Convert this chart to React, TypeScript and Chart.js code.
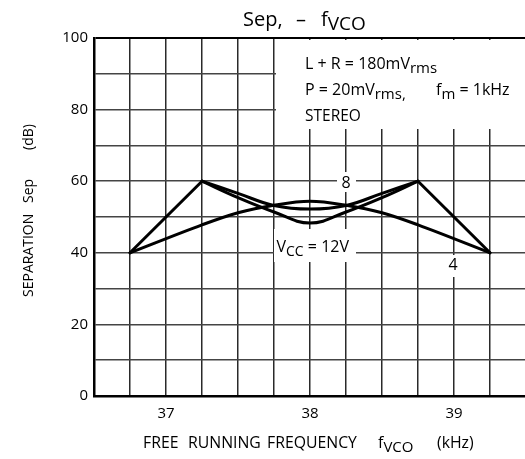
import React, { useEffect, useRef } from 'react';
import { Chart, registerables } from 'chart.js';

Chart.register(...registerables);

// ---- scale grid / tick values ----
const xGrid = [36.5, 36.75, 37, 37.25, 37.5, 37.75, 38, 38.25, 38.5, 38.75, 39, 39.25];
const xTickLabels = [37, 38, 39];
const yGrid = [0, 10, 20, 30, 40, 50, 60, 70, 80, 90, 100];
const yTickLabels = [0, 20, 40, 60, 80, 100];

// ---- series ----
// VCC = 12V : arch
const archX = [36.75, 37.25, 37.5, 37.75, 38, 38.25, 38.5, 38.75, 39.25];
const archY = [40, 47.8, 51.2, 53.3, 54.4, 53.3, 51.2, 47.8, 40];
// straight outer flanks
const leftFlankX = [36.75, 37.25];
const leftFlankY = [40, 60];
const rightFlankX = [38.75, 39.25];
const rightFlankY = [60, 40];
// dips between the peaks
const dipX = [37.25, 37.5, 37.75, 38, 38.25, 38.5, 38.75];
const dip8Y = [60, 56.6, 53.2, 52.2, 53.2, 56.6, 60];
const dip4Y = [60, 55.4, 51.4, 48.3, 51.4, 55.4, 60];

const FONT = '"Open Sans", "DejaVu Sans", sans-serif';

type Part = { t: string; size: number; dy?: number };

function drawParts(ctx: CanvasRenderingContext2D, x: number, y: number, parts: Part[]) {
  let cx = x;
  for (const p of parts) {
    ctx.font = `${p.size}px ${FONT}`;
    ctx.fillText(p.t, cx, y + (p.dy || 0));
    cx += ctx.measureText(p.t).width;
  }
  return cx;
}

const pts = (xs: number[], ys: number[]) => xs.map((x, i) => ({ x, y: ys[i] }));

const whiteBoxes = {
  id: 'whiteBoxes',
  beforeDatasetsDraw(chart: any) {
    const ctx = chart.ctx as CanvasRenderingContext2D;
    ctx.save();
    ctx.fillStyle = '#fff';
    // condition text box (upper right)
    ctx.fillRect(276, 40, 250, 89);
    // "8"
    ctx.fillRect(337, 172, 19, 20);
    // "VCC = 12V"
    ctx.fillRect(274, 229, 82, 33);
    // "4"
    ctx.fillRect(442, 255, 19, 22);
    ctx.restore();
  },
};

const texts = {
  id: 'texts',
  afterDraw(chart: any) {
    const ctx = chart.ctx as CanvasRenderingContext2D;
    ctx.save();
    ctx.fillStyle = '#000';
    ctx.textBaseline = 'alphabetic';
    ctx.textAlign = 'left';

    // title
    drawParts(ctx, 243, 25.5, [{ t: 'Sep,', size: 20 }]);
    drawParts(ctx, 296, 25.5, [{ t: '–', size: 20 }]);
    drawParts(ctx, 321, 25.5, [{ t: 'f', size: 20 }, { t: 'VCO', size: 19, dy: 4 }]);

    // conditions
    drawParts(ctx, 305, 69, [{ t: 'L + R = 180mV', size: 16 }, { t: 'rms', size: 15, dy: 4 }]);
    drawParts(ctx, 305, 95, [{ t: 'P = 20mV', size: 16 }, { t: 'rms,', size: 15, dy: 4 }]);
    drawParts(ctx, 436, 95, [{ t: 'f', size: 16 }, { t: 'm', size: 15, dy: 4 }, { t: ' = 1kHz', size: 16 }]);
    drawParts(ctx, 305, 121, [{ t: 'STEREO', size: 15.5 }]);

    // curve labels
    ctx.textAlign = 'center';
    ctx.font = `16px ${FONT}`;
    ctx.fillText('8', 346, 188);
    ctx.fillText('4', 453, 270);
    ctx.textAlign = 'left';
    drawParts(ctx, 276.5, 252, [{ t: 'V', size: 16 }, { t: 'CC', size: 14, dy: 4 }, { t: ' = 12V', size: 16 }]);

    // x axis title
    ctx.font = `15.8px ${FONT}`;
    ctx.fillText('FREE', 143, 448);
    ctx.fillText('RUNNING', 188, 448);
    ctx.fillText('FREQUENCY', 267, 448);
    drawParts(ctx, 378, 448, [{ t: 'f', size: 16 }, { t: 'VCO', size: 15, dy: 4 }]);
    ctx.font = `15.8px ${FONT}`;
    ctx.fillText('(kHz)', 437, 448);

    // y axis title (rotated)
    ctx.translate(33, 0);
    ctx.rotate(-Math.PI / 2);
    ctx.font = `14px ${FONT}`;
    ctx.fillText('SEPARATION', -297, 0);
    ctx.fillText('Sep', -203, 0);
    ctx.fillText('(dB)', -150, 0);
    ctx.restore();
  },
};

const lineStyle = {
  borderColor: '#000',
  borderWidth: 3,
  pointRadius: 0,
  fill: false,
  borderCapStyle: 'round' as const,
  borderJoinStyle: 'round' as const,
};

export default function App() {
  const ref = useRef<HTMLCanvasElement | null>(null);

  useEffect(() => {
    if (!ref.current) return;
    const chart = new Chart(ref.current, {
      type: 'line',
      data: {
        datasets: [
          { label: 'VCC=12V', data: pts(archX, archY), tension: 0.35, ...lineStyle },
          { label: '8 left', data: pts(leftFlankX, leftFlankY), tension: 0, ...lineStyle },
          { label: '8', data: pts(dipX, dip8Y), tension: 0.4, ...lineStyle },
          { label: '4', data: pts(dipX, dip4Y), tension: 0.4, ...lineStyle },
          { label: '8 right', data: pts(rightFlankX, rightFlankY), tension: 0, ...lineStyle },
        ],
      },
      options: {
        animation: false,
        responsive: false,
        maintainAspectRatio: false,
        parsing: false as any,
        layout: { padding: { top: 38, right: 0, left: 0, bottom: 0 } },
        plugins: {
          legend: { display: false },
          title: { display: false },
          tooltip: { enabled: false },
        },
        scales: {
          x: {
            type: 'linear',
            min: 36.5,
            max: 39.493,
            afterBuildTicks: (s: any) => {
              s.ticks = xGrid.map((v) => ({ value: v }));
            },
            afterFit: (s: any) => {
              s.height = 63;
            },
            grid: { color: '#2a2a2a', lineWidth: 1.5, drawTicks: false },
            border: { color: '#000', width: 2.5 },
            ticks: {
              autoSkip: false,
              maxRotation: 0,
              padding: 9,
              color: '#000',
              font: { family: FONT, size: 15 },
              callback: (v: any) => (xTickLabels.includes(Number(v)) ? String(v) : ''),
            },
          },
          y: {
            type: 'linear',
            min: 0,
            max: 100,
            afterBuildTicks: (s: any) => {
              s.ticks = yGrid.map((v) => ({ value: v }));
            },
            afterFit: (s: any) => {
              s.width = 94;
            },
            grid: {
              color: (c: any) => (c.tick && c.tick.value === 100 ? '#000' : '#444'),
              lineWidth: (c: any) => (c.tick && c.tick.value === 100 ? 2 : 1.5),
              drawTicks: false,
            },
            border: { color: '#000', width: 2.5 },
            ticks: {
              autoSkip: false,
              padding: 6,
              color: '#000',
              font: { family: FONT, size: 15 },
              callback: (v: any) => (yTickLabels.includes(Number(v)) ? String(v) : ''),
            },
          },
        },
      },
      plugins: [whiteBoxes, texts],
    });
    return () => chart.destroy();
  }, []);

  return (
    <div style={{ position: 'absolute', left: 0, top: 0, width: 525, height: 459, background: '#fff' }}>
      <canvas ref={ref} width={525} height={459} style={{ display: 'block' }} />
    </div>
  );
}
